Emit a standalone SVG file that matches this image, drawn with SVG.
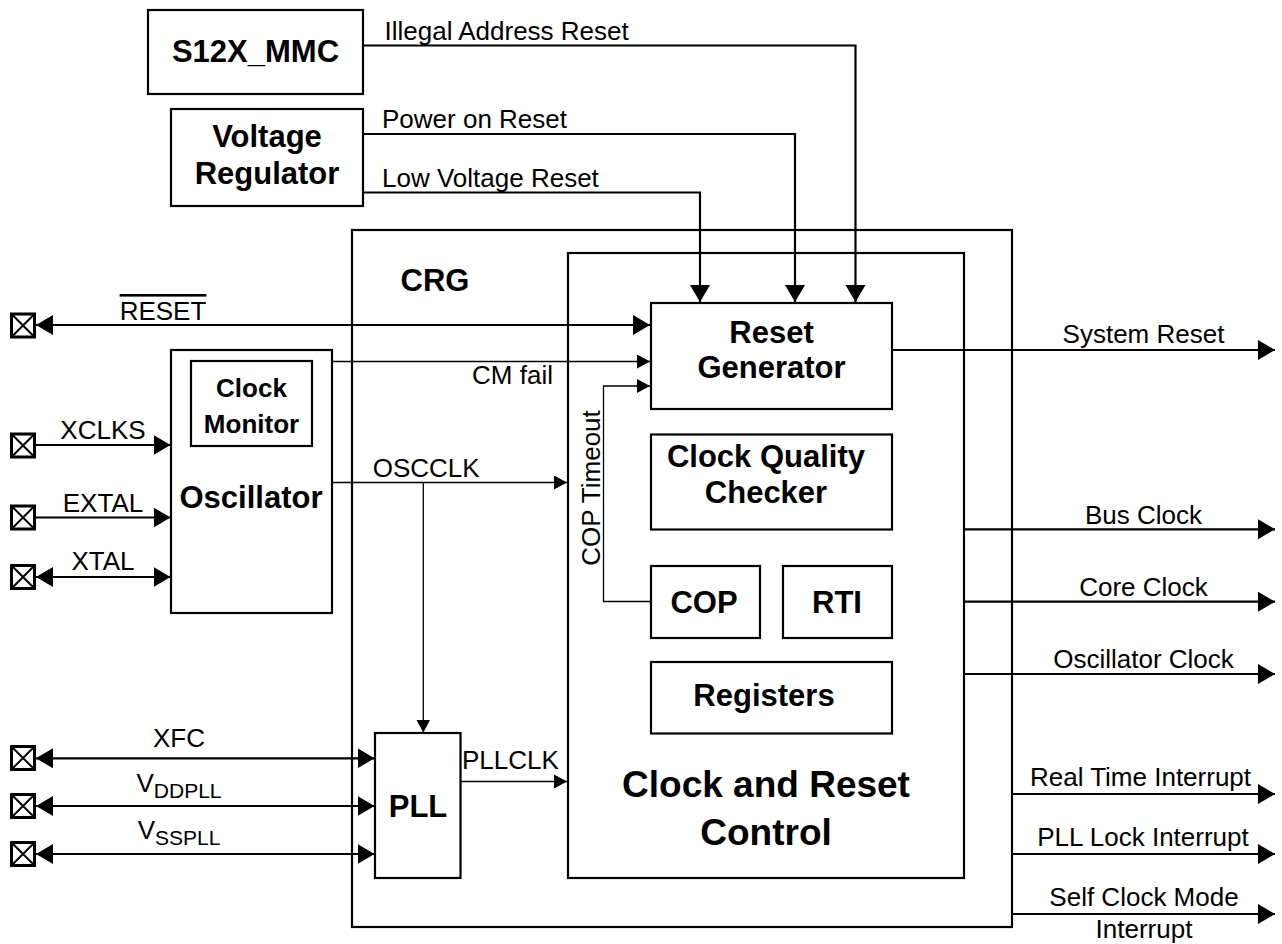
<svg xmlns="http://www.w3.org/2000/svg" xmlns:xlink="http://www.w3.org/1999/xlink" width="1282" height="944" viewBox="0 0 1282 944">
<style>
  text { font-family: "Liberation Sans", Arial, sans-serif; fill: #000; }
  .lbl { font-size: 26px; }
  .mid { text-anchor: middle; }
  .b31 { font-size: 31px; font-weight: bold; text-anchor: middle; }
  .b26 { font-size: 26px; font-weight: bold; text-anchor: middle; }
  .b37 { font-size: 37px; font-weight: bold; text-anchor: middle; }
  .box { fill: none; stroke: #000; stroke-width: 2.2; }
  .thick { fill: none; stroke: #000; stroke-width: 2.2; }
  .thin { fill: none; stroke: #000; stroke-width: 1.3; }
  .pin rect { fill: #fff; stroke: #000; stroke-width: 3; }
  .pin path { fill: none; stroke: #000; stroke-width: 2; }
</style>
<defs>
  <marker id="ah" markerUnits="userSpaceOnUse" markerWidth="18" markerHeight="21" refX="17" refY="10" orient="auto-start-reverse">
    <path d="M0,0 L17,10 L0,20 z" fill="#000"/>
  </marker>
  <marker id="at" markerUnits="userSpaceOnUse" markerWidth="14" markerHeight="15" refX="13" refY="7" orient="auto-start-reverse">
    <path d="M0,0 L13,7 L0,14 z" fill="#000"/>
  </marker>
  <g id="pinsym" class="pin">
    <rect x="-11.5" y="-11.5" width="23" height="23"/>
    <path d="M-11.5,-11.5 L11.5,11.5 M11.5,-11.5 L-11.5,11.5"/>
  </g>
</defs>
<rect width="1282" height="944" fill="#fff"/>

<g id="s12x_mmc">
  <rect class="box" x="148" y="10" width="215" height="84"/>
  <text class="b31" x="255.5" y="62">S12X_MMC</text>
</g>
<g id="voltage_regulator">
  <rect class="box" x="171" y="109" width="192" height="97"/>
  <text class="b31" x="267" y="147">Voltage</text>
  <text class="b31" x="267" y="184">Regulator</text>
</g>
<g id="crg">
  <rect class="box" x="352" y="230" width="660" height="697"/>
  <text class="b31" x="435" y="291">CRG</text>
</g>
<g id="clock_and_reset_control">
  <rect class="box" x="568" y="253" width="396" height="625"/>
  <text class="b37" x="766" y="797">Clock and Reset</text>
  <text class="b37" x="766" y="845">Control</text>
</g>
<g id="reset_generator">
  <rect class="box" x="651" y="303" width="241" height="106"/>
  <text class="b31" x="771.5" y="343">Reset</text>
  <text class="b31" x="771.5" y="378">Generator</text>
</g>
<g id="clock_quality_checker">
  <rect class="box" x="651" y="434.5" width="241" height="95"/>
  <text class="b31" x="766" y="467">Clock Quality</text>
  <text class="b31" x="766" y="503">Checker</text>
</g>
<g id="cop">
  <rect class="box" x="651" y="566" width="109" height="72"/>
  <text class="b31" x="704" y="613">COP</text>
</g>
<g id="rti">
  <rect class="box" x="783" y="566" width="109" height="72"/>
  <text class="b31" x="837" y="613">RTI</text>
</g>
<g id="registers">
  <rect class="box" x="651" y="662" width="241" height="71.5"/>
  <text class="b31" x="764" y="706">Registers</text>
</g>
<g id="oscillator">
  <rect class="box" x="171" y="350" width="161" height="263"/>
  <text class="b31" x="251" y="508">Oscillator</text>
</g>
<g id="clock_monitor">
  <rect class="box" x="191" y="361" width="121" height="85"/>
  <text class="b26" x="251.5" y="397">Clock</text>
  <text class="b26" x="251.5" y="433">Monitor</text>
</g>
<g id="pll">
  <rect class="box" x="375" y="733" width="85.5" height="145"/>
  <text class="b31" x="418" y="817">PLL</text>
</g>

<g id="connectors">
  <path class="thick" d="M363,45.5 H855.5 V302" marker-end="url(#ah)"/>
  <path class="thick" d="M363,134 H795 V302" marker-end="url(#ah)"/>
  <path class="thick" d="M363,192.5 H700 V302" marker-end="url(#ah)"/>
  <path class="thick" d="M36,325 H650" marker-start="url(#ah)" marker-end="url(#ah)"/>
  <path class="thin" d="M332,361.5 H650" marker-end="url(#at)"/>
  <path class="thin" d="M651,601.5 H603.5 V386 H650" marker-end="url(#at)"/>
  <path class="thin" d="M332,482.5 H567" marker-end="url(#at)"/>
  <path class="thin" d="M423.3,482.5 V732.5" marker-end="url(#at)"/>
  <path class="thick" d="M36,445 H170.5" marker-end="url(#ah)"/>
  <path class="thick" d="M36,517.5 H170.5" marker-end="url(#ah)"/>
  <path class="thick" d="M36,577 H170.5" marker-start="url(#ah)" marker-end="url(#ah)"/>
  <path class="thick" d="M36,758.3 H374.5" marker-start="url(#ah)" marker-end="url(#ah)"/>
  <path class="thick" d="M36,806 H374.5" marker-start="url(#ah)" marker-end="url(#ah)"/>
  <path class="thick" d="M36,854 H374.5" marker-start="url(#ah)" marker-end="url(#ah)"/>
  <path class="thin" d="M460.5,781.5 H567" marker-end="url(#at)"/>
  <path class="thick" d="M892,350 H1275" marker-end="url(#ah)"/>
  <path class="thick" d="M964,529.3 H1275" marker-end="url(#ah)"/>
  <path class="thick" d="M964,601.7 H1275" marker-end="url(#ah)"/>
  <path class="thick" d="M964,674 H1275" marker-end="url(#ah)"/>
  <path class="thick" d="M1012,794 H1275" marker-end="url(#ah)"/>
  <path class="thick" d="M1012,854 H1275" marker-end="url(#ah)"/>
  <path class="thick" d="M1012,914 H1275" marker-end="url(#ah)"/>

  <text class="lbl" x="384.5" y="39.5">Illegal Address Reset</text>
  <text class="lbl" x="382" y="128">Power on Reset</text>
  <text class="lbl" x="382" y="186.5">Low Voltage Reset</text>
  <text class="lbl mid" x="163" y="320" style="text-decoration:overline">RESET</text>
  <text class="lbl" x="553" y="384" text-anchor="end">CM fail</text>
  <text class="lbl mid" transform="translate(599.5,488) rotate(-90)">COP Timeout</text>
  <text class="lbl" x="372.7" y="476.7">OSCCLK</text>
  <text class="lbl" x="462" y="769">PLLCLK</text>
  <text class="lbl mid" x="103" y="439">XCLKS</text>
  <text class="lbl mid" x="103" y="511.5">EXTAL</text>
  <text class="lbl mid" x="103" y="570">XTAL</text>
  <text class="lbl mid" x="179" y="747">XFC</text>
  <text class="lbl mid" x="179" y="792">V<tspan font-size="21" dy="6">DDPLL</tspan></text>
  <text class="lbl mid" x="179" y="839">V<tspan font-size="21" dy="6">SSPLL</tspan></text>
  <text class="lbl mid" x="1143.5" y="343">System Reset</text>
  <text class="lbl mid" x="1143.5" y="524">Bus Clock</text>
  <text class="lbl mid" x="1143.5" y="596">Core Clock</text>
  <text class="lbl mid" x="1143.5" y="668">Oscillator Clock</text>
  <text class="lbl mid" x="1140.5" y="786">Real Time Interrupt</text>
  <text class="lbl mid" x="1143" y="846">PLL Lock Interrupt</text>
  <text class="lbl mid" x="1144" y="906">Self Clock Mode</text>
  <text class="lbl mid" x="1144" y="938">Interrupt</text>
</g>

<g id="pins">
  <use xlink:href="#pinsym" x="23" y="325.5"/>
  <use xlink:href="#pinsym" x="23" y="445.5"/>
  <use xlink:href="#pinsym" x="23" y="517.5"/>
  <use xlink:href="#pinsym" x="23" y="577"/>
  <use xlink:href="#pinsym" x="23" y="758"/>
  <use xlink:href="#pinsym" x="23" y="806"/>
  <use xlink:href="#pinsym" x="23" y="854"/>
</g>
</svg>
